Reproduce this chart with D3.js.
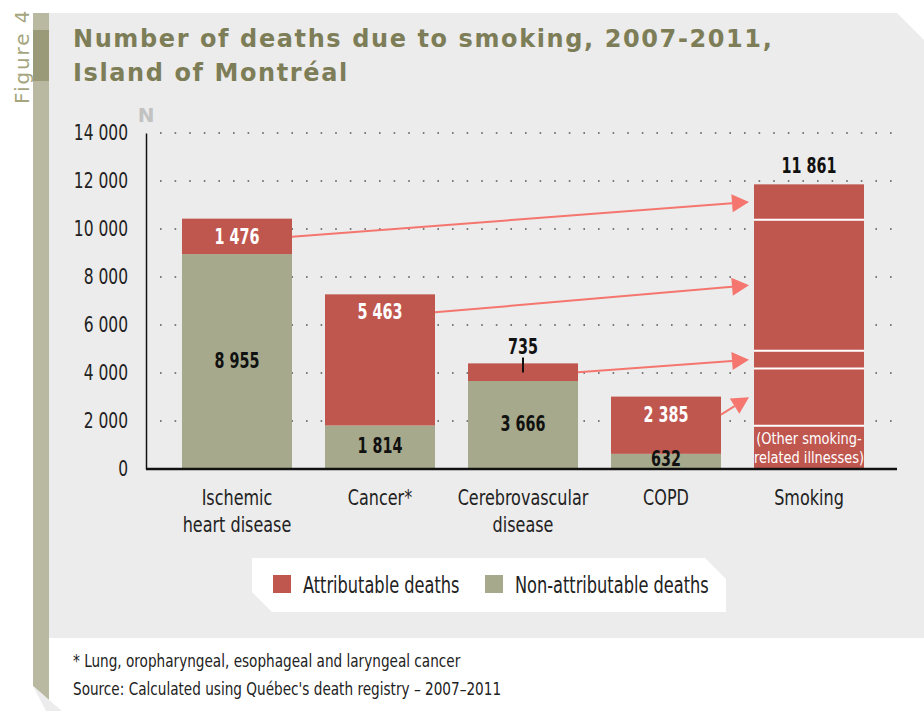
<!DOCTYPE html>
<html>
<head>
<meta charset="utf-8">
<script src="https://cdn.jsdelivr.net/npm/d3@7"></script>
<style>
  body { margin: 0; background: #fff; }
  text { font-family: "DejaVu Sans Condensed", "DejaVu Sans", sans-serif; font-stretch: condensed; }
  text.wide { font-family: "DejaVu Sans", sans-serif; font-stretch: normal; }
</style>
</head>
<body>
<script>
// data
var categories = ["Ischemic heart disease", "Cancer*", "Cerebrovascular disease", "COPD", "Smoking"];
var categoryLines = [["Ischemic", "heart disease"], ["Cancer*"], ["Cerebrovascular", "disease"], ["COPD"], ["Smoking"]];
var attributable = [1476, 5463, 735, 2385];
var nonAttributable = [8955, 1814, 3666, 632];
var smokingTotal = 11861;
var yTicks = [0, 2000, 4000, 6000, 8000, 10000, 12000, 14000];

var red = "#c0574f", green = "#a6a98b", arrowCol = "#f4766f";
var fmt = d3.formatLocale({ decimal: ",", thousands: " ", grouping: [3], currency: ["", ""] }).format(",d");

// the original uses a narrow DIN-like face; squeeze the condensed font a bit more around its anchor
function condense(sel, f) {
  sel.each(function() {
    var t = d3.select(this);
    var tx = +t.attr("x") || 0, ty = +t.attr("y") || 0;
    t.attr("x", 0).attr("y", 0)
      .attr("transform", "translate(" + tx + "," + ty + ") scale(" + f + ",1)");
  });
}

var svg = d3.select("body").append("svg")
  .attr("width", 924)
  .attr("height", 711);

// background panel + left strip
svg.append("path")
  .attr("d", "M49,13 L897,13 L924,40 L924,638 L49,638 Z")
  .attr("fill", "#ececec");
svg.append("path")
  .attr("d", "M33,13 L49,13 L49,700 L33,686 Z")
  .attr("fill", "#b9b9a1");
svg.append("path")
  .attr("d", "M33,686 L49,700 L62,711 L46,711 Z")
  .attr("fill", "#ececec");
svg.append("rect").attr("x", 33).attr("y", 30).attr("width", 16).attr("height", 51).attr("fill", "#9a9a78");

svg.append("text")
  .attr("class", "wide")
  .attr("transform", "translate(29,104) rotate(-90)")
  .attr("font-size", 20)
  .attr("letter-spacing", 1.9)
  .attr("fill", "#a5a57e")
  .text("Figure 4");

var title = svg.append("g")
  .attr("font-size", 24)
  .attr("font-weight", "bold")
  .attr("letter-spacing", 1.6)
  .attr("fill", "#7d7e58");
title.append("text").attr("class", "wide").attr("x", 73).attr("y", 47).text("Number of deaths due to smoking, 2007-2011,");
title.append("text").attr("class", "wide").attr("x", 73).attr("y", 81).text("Island of Montréal");

// scales
var x = d3.scaleBand()
  .domain(categories)
  .range([165.5, 880.5])
  .paddingInner(0.2308)
  .paddingOuter(0.1154);
var y = d3.scaleLinear().domain([0, 14000]).range([469, 133]);

// dotted grid
svg.append("g").selectAll("line")
  .data(yTicks.slice(1))
  .join("line")
  .attr("x1", 160).attr("x2", 895)
  .attr("y1", d => y(d)).attr("y2", d => y(d))
  .attr("stroke", "#555")
  .attr("stroke-width", 1.6)
  .attr("stroke-dasharray", "1.6,13");

// y axis
var yAxis = svg.append("g")
  .attr("transform", "translate(146,0)")
  .call(d3.axisLeft(y).tickValues(yTicks).tickFormat(fmt).tickSize(0).tickPadding(18));
yAxis.select(".domain").attr("stroke", "#111").attr("stroke-width", 1.5);
yAxis.attr("font-family", null);
yAxis.selectAll("text").attr("font-size", 21).attr("fill", "#222").call(condense, 0.82);

svg.append("text").attr("class", "wide").attr("x", 146).attr("y", 122)
  .attr("text-anchor", "middle")
  .attr("font-size", 20).attr("font-weight", "bold").attr("fill", "#c2c2c2")
  .text("N");

// stacked bars for the four diseases
var diseases = categories.slice(0, 4);
var bw = x.bandwidth();
svg.append("g").selectAll("rect")
  .data(diseases)
  .join("rect")
  .attr("x", d => x(d)).attr("width", bw)
  .attr("y", (d, i) => y(nonAttributable[i]))
  .attr("height", (d, i) => y(0) - y(nonAttributable[i]))
  .attr("fill", green);
svg.append("g").selectAll("rect")
  .data(diseases)
  .join("rect")
  .attr("x", d => x(d)).attr("width", bw)
  .attr("y", (d, i) => y(nonAttributable[i] + attributable[i]))
  .attr("height", (d, i) => y(0) - y(attributable[i]))
  .attr("fill", red);

// smoking bar: attributable deaths stacked, remainder = other illnesses
var other = smokingTotal - d3.sum(attributable);
var smokeParts = [other].concat(attributable.slice().reverse());
var smokeIdx = [-1, 3, 2, 1, 0];
var cum = 0;
var smokeSegs = smokeParts.map(function(v, k) {
  var s = { lo: cum, hi: cum + v, idx: smokeIdx[k] };
  cum += v;
  return s;
});
var sx = x("Smoking");
svg.append("rect")
  .attr("x", sx).attr("width", bw)
  .attr("y", y(smokingTotal)).attr("height", y(0) - y(smokingTotal))
  .attr("fill", red);
svg.append("g").selectAll("line")
  .data(smokeSegs.slice(1))
  .join("line")
  .attr("x1", sx).attr("x2", sx + bw)
  .attr("y1", d => y(d.lo)).attr("y2", d => y(d.lo))
  .attr("stroke", "#fff").attr("stroke-width", 2);

// x axis
svg.append("line")
  .attr("x1", 146).attr("x2", 897).attr("y1", y(0)).attr("y2", y(0))
  .attr("stroke", "#111").attr("stroke-width", 2.5);

// arrows from each attributable segment to its piece of the smoking bar
function arrowStartY(i) {
  var top = y(nonAttributable[i] + attributable[i]);
  if (i === 2) return (top + y(nonAttributable[i])) / 2;
  return top + 18;
}
var arrows = svg.append("g");
diseases.forEach(function(d, i) {
  var seg = smokeSegs.find(s => s.idx === i);
  var x1 = x(d) + bw, y1 = arrowStartY(i);
  var x2 = sx - 5, y2 = (y(seg.lo) + y(seg.hi)) / 2;
  var ang = Math.atan2(y2 - y1, x2 - x1);
  var len = 17, half = 9;
  var bx = x2 - len * Math.cos(ang), by = y2 - len * Math.sin(ang);
  arrows.append("line")
    .attr("x1", x1).attr("y1", y1).attr("x2", bx).attr("y2", by)
    .attr("stroke", arrowCol).attr("stroke-width", 2);
  arrows.append("path")
    .attr("d", "M" + x2 + "," + y2 +
      "L" + (bx - half * Math.sin(ang)) + "," + (by + half * Math.cos(ang)) +
      "L" + (bx + half * Math.sin(ang)) + "," + (by - half * Math.cos(ang)) + "Z")
    .attr("fill", arrowCol);
});

// value labels
var labels = svg.append("g").attr("font-size", 21).attr("font-weight", "bold").attr("text-anchor", "middle");
diseases.forEach(function(d, i) {
  var cx = x(d) + bw / 2;
  var nTop = y(nonAttributable[i]);
  labels.append("text")
    .attr("x", cx)
    .attr("y", i === 3 ? y(0) - 3 : (nTop + y(0)) / 2 + 6)
    .attr("fill", "#111")
    .text(fmt(nonAttributable[i]));
  if (i === 2) {
    var top = y(nonAttributable[i] + attributable[i]);
    labels.append("text").attr("x", cx).attr("y", top - 9).attr("fill", "#111").text(fmt(attributable[i]));
    labels.append("line").attr("x1", cx).attr("x2", cx).attr("y1", top - 6).attr("y2", top + 9)
      .attr("stroke", "#111").attr("stroke-width", 2);
  } else {
    labels.append("text").attr("x", cx).attr("y", arrowStartY(i) + 7).attr("fill", "#fff").text(fmt(attributable[i]));
  }
});
labels.append("text")
  .attr("x", sx + bw / 2).attr("y", y(smokingTotal) - 11)
  .attr("fill", "#111").text(fmt(smokingTotal));
labels.selectAll("text").call(condense, 0.76);

var note = svg.append("g").attr("text-anchor", "middle").attr("font-size", 16).attr("fill", "#fff");
note.append("text").attr("x", sx + bw / 2).attr("y", y(other) + 18).text("(Other smoking-");
note.append("text").attr("x", sx + bw / 2).attr("y", y(other) + 37).text("related illnesses)");
note.selectAll("text").call(condense, 0.9);

// category labels
var catG = svg.append("g")
  .attr("text-anchor", "middle")
  .attr("font-size", 22)
  .attr("fill", "#222");
categories.forEach(function(d, i) {
  categoryLines[i].forEach(function(line, k) {
    catG.append("text").attr("x", x(d) + bw / 2).attr("y", 505 + k * 27).text(line);
  });
});
catG.selectAll("text").call(condense, 0.81);

// legend
svg.append("path")
  .attr("d", "M252,558 L705,558 L726,579 L726,612 L272,612 L252,592 Z")
  .attr("fill", "#fff");
var legendItems = [["Attributable deaths", red, 273], ["Non-attributable deaths", green, 485]];
var lg = svg.append("g").selectAll("g").data(legendItems).join("g");
lg.append("rect").attr("x", d => d[2]).attr("y", 575).attr("width", 18).attr("height", 18).attr("fill", d => d[1]);
lg.append("text").attr("x", d => d[2] + 30).attr("y", 593).attr("font-size", 22.5).attr("fill", "#222").text(d => d[0])
  .call(condense, 0.8);

// footnotes
var foot = svg.append("g").attr("font-size", 17.5).attr("fill", "#222");
foot.append("text").attr("x", 73).attr("y", 667).text("* Lung, oropharyngeal, esophageal and laryngeal cancer");
foot.append("text").attr("x", 73).attr("y", 695).text("Source: Calculated using Québec's death registry – 2007–2011");
foot.selectAll("text").call(condense, 0.865);
</script>
</body>
</html>
